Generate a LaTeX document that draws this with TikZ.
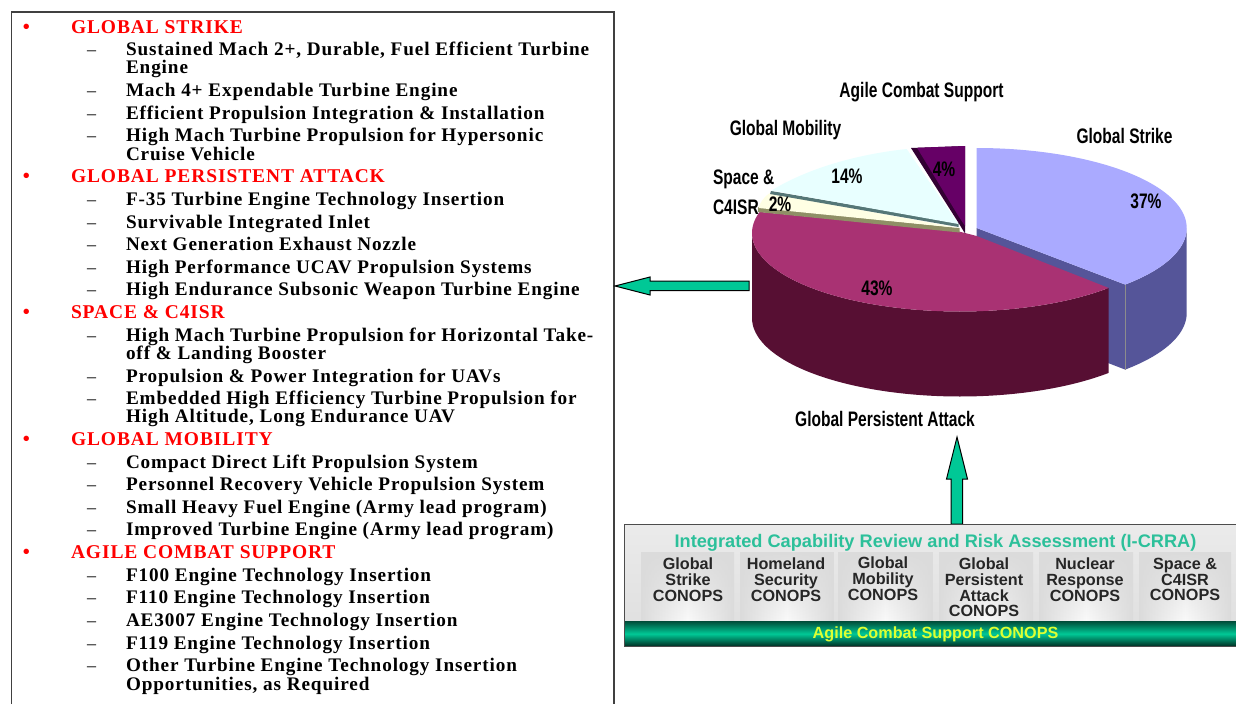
\documentclass[tikz,border=0pt]{standalone}
\usepackage{fontspec}
\usetikzlibrary{fadings}
\setmainfont{Liberation Serif}
\newfontfamily\listfont[LetterSpace=4.6]{Liberation Serif}
\newfontfamily\panelfont{Liberation Sans}
\newfontfamily\pienarrow[FakeStretch=0.74]{Liberation Sans}
\definecolor{redhead}{HTML}{FF0000}
\definecolor{arrowgreen}{HTML}{00C896}
\definecolor{titlegreen}{HTML}{2CC09A}
\definecolor{strikeTop}{HTML}{AAAAFF}
\definecolor{strikeSide}{HTML}{555599}
\definecolor{attackTop}{HTML}{A93273}
\definecolor{attackSide}{HTML}{570F33}
\definecolor{mobTop}{HTML}{E8FFFF}
\definecolor{mobEdge}{HTML}{557777}
\definecolor{spaceTop}{HTML}{FFFFE4}
\definecolor{spaceEdge}{HTML}{8F8F66}
\definecolor{agileTop}{HTML}{660066}
\definecolor{agileEdge}{HTML}{330033}
\definecolor{acsyellow}{HTML}{DDFF33}
\tikzset{
  x=1pt,y=-1pt,
  headt/.style={anchor=base west,inner sep=0,outer sep=0,text=redhead,font={\listfont\bfseries\fontsize{19.5}{19.5}\selectfont}},
  subt/.style={anchor=base west,inner sep=0,outer sep=0,text=black,font={\listfont\bfseries\fontsize{19.2}{19.2}\selectfont}},
  dasht/.style={anchor=base west,inner sep=0,outer sep=0,text=black,font={\fontsize{18}{18}\selectfont}},
  bult/.style={anchor=base west,inner sep=0,outer sep=0,text=redhead,font={\bfseries\fontsize{20}{20}\selectfont}},
  pielab/.style={inner sep=0,outer sep=0,font={\pienarrow\bfseries\fontsize{21}{21}\selectfont}},
  blockarrow/.style={fill=arrowgreen,draw=black,line width=1pt,line join=miter},
  tilet/.style={inner sep=0,outer sep=0,align=center,text=black!85,font={\panelfont\bfseries\fontsize{16.2}{16.2}\selectfont}},
  tileb/.style={left color=black!14,right color=black!14,middle color=black!2},
  tiletop/.style={fill=black!14,path fading=south},
}
\newcommand{\hd}[2]{\node[bult] (b#1) at (23,#1) {•};\node[headt] (h#1) at (71,#1) {#2};}
\newcommand{\sbl}[2]{\node[dasht] (d#1) at (87,#1) {–};\node[subt] (s#1) at (126,#1) {#2};}
\newcommand{\cnt}[2]{\node[subt] (c#1) at (126,#1) {#2};}
\newcommand{\tile}[2]{\shade[tileb] (#1,552) rectangle (#2,621);\path[tiletop] (#1,552) rectangle (#2,621);}
\begin{document}
\begin{tikzpicture}
\useasboundingbox (0,0) rectangle (1236,704);
\fill[white] (0,0) rectangle (1236,704);
% list frame
\draw[draw=black!75,line width=1.2pt] (11.5,704) -- (11.5,12) -- (614,12) -- (614,704);
\hd{33}{GLOBAL STRIKE}
\sbl{55}{Sustained Mach 2+, Durable, Fuel Efficient Turbine}
\cnt{73}{Engine}
\sbl{96}{Mach 4+ Expendable Turbine Engine}
\sbl{119}{Efficient Propulsion Integration \& Installation}
\sbl{141}{High Mach Turbine Propulsion for Hypersonic}
\cnt{160}{Cruise Vehicle}
\hd{182}{GLOBAL PERSISTENT ATTACK}
\sbl{205}{F-35 Turbine Engine Technology Insertion}
\sbl{228}{Survivable Integrated Inlet}
\sbl{250}{Next Generation Exhaust Nozzle}
\sbl{273}{High Performance UCAV Propulsion Systems}
\sbl{295}{High Endurance Subsonic Weapon Turbine Engine}
\hd{318}{SPACE \& C4ISR}
\sbl{341}{High Mach Turbine Propulsion for Horizontal Take-}
\cnt{359}{off \& Landing Booster}
\sbl{382}{Propulsion \& Power Integration for UAVs}
\sbl{404}{Embedded High Efficiency Turbine Propulsion for}
\cnt{422}{High Altitude, Long Endurance UAV}
\hd{445}{GLOBAL MOBILITY}
\sbl{468}{Compact Direct Lift Propulsion System}
\sbl{490}{Personnel Recovery Vehicle Propulsion System}
\sbl{513}{Small Heavy Fuel Engine (Army lead program)}
\sbl{535}{Improved Turbine Engine (Army lead program)}
\hd{558}{AGILE COMBAT SUPPORT}
\sbl{581}{F100 Engine Technology Insertion}
\sbl{603}{F110 Engine Technology Insertion}
\sbl{626}{AE3007 Engine Technology Insertion}
\sbl{649}{F119 Engine Technology Insertion}
\sbl{671}{Other Turbine Engine Technology Insertion}
\cnt{690}{Opportunities, as Required}
% pie: strike
\fill[strikeSide] (976.7,228) -- (976.7,237) -- (1108,290) -- (1108,363) -- (1125.2,369.6) -- (1125.2,284.6) -- cycle;
\fill[strikeSide] (1125.2,284.6) -- plot[domain=45:0,samples=50] ({976.7+210*cos(\x)},{228+80*sin(\x)}) -- plot[domain=0:45,samples=50] ({976.7+210*cos(\x)},{313+80*sin(\x)}) -- cycle;
\draw[black!45,line width=.5pt] (1125.2,284.6) -- (1125.2,369.6);
\fill[strikeTop] (976.7,228) -- plot[domain=-90:45,samples=90] ({976.7+210*cos(\x)},{228+80*sin(\x)}) -- cycle;
% pie: attack
\fill[attackSide] plot[domain=180:44.4,samples=90] ({960+208*cos(\x)},{233+78.5*sin(\x)}) -- plot[domain=44.4:180,samples=90] ({960+208*cos(\x)},{318+78.5*sin(\x)}) -- cycle;
\fill[attackTop] (959,231.5) -- (976.7,236) -- plot[domain=44.4:195.6,samples=90] ({960+208*cos(\x)},{233+78.5*sin(\x)}) -- cycle;
% pie: space
\fill[spaceEdge] (758,207) -- (959.5,228) -- (959.5,232.5) -- (758,212) -- cycle;
\fill[spaceTop] (769.3,193.3) .. controls (763,198) and (760,203) .. (758.5,208) -- (959.3,228) -- cycle;
% pie: mobility
\fill[mobEdge] (771,191) -- (958.5,223) -- (958.5,227) -- (770,194) -- cycle;
\fill[mobTop] (958.3,224) -- (771.5,190.5) .. controls (810,167) and (860,154) .. (906.7,149) -- cycle;
% pie: agile
\fill[agileEdge] (911,148) -- (965,146) -- (965,233.5) -- (958,222) -- cycle;
\fill[agileTop] (917,147.8) -- (965,146) -- (965,226) -- (959,217) -- cycle;
% pie labels
\node[pielab] (lagile) at (921.5,92) {Agile Combat Support};
\node[pielab] (lstrike) at (1124.5,136) {Global Strike};
\node[pielab] (lmob) at (785.5,130) {Global Mobility};
\node[pielab,anchor=west] (lspace) at (713,179) {Space \&};
\node[pielab,anchor=west] (lcisr) at (713,207) {C4ISR};
\node[pielab] (lattack) at (885,419) {Global Persistent Attack};
\node[pielab] (p37) at (1146,201) {37\%};
\node[pielab] (p14) at (847,176) {14\%};
\node[pielab] (p4) at (944,169) {4\%};
\node[pielab] (p2) at (780,204) {2\%};
\node[pielab] (p43) at (877,288) {43\%};
% arrows
\path[blockarrow] (615,286) -- (650,277) -- (650,281) -- (749,281) -- (749,290.5) -- (650,290.5) -- (650,295) -- cycle;
\path[blockarrow] (957,437) -- (967.5,479) -- (962.5,479) -- (962.5,524) -- (951,524) -- (951,479) -- (946.5,479) -- cycle;
% panel
\fill[black!11] (624,524) rectangle (1236,646);
\shade[top color=black!8,bottom color=black!12] (624,524) rectangle (1236,622);
\tile{641}{734}
\tile{740}{833.5}
\tile{838}{932.5}
\tile{939}{1033}
\tile{1039}{1133}
\tile{1139}{1231}
\shade[top color=black!60!arrowgreen,bottom color=black!75!arrowgreen,middle color=arrowgreen] (624,621.5) rectangle (1236,646);
\draw[black!70,line width=1pt] (1236,524) -- (624,524) -- (624,646) -- (1236,646);
\node[inner sep=0,text=titlegreen,font={\panelfont\bfseries\fontsize{18.2}{18.2}\selectfont}] (ttl) at (935.5,542.5) {Integrated Capability Review and Risk Assessment (I-CRRA)};
\node[tilet] (t1) at (688,579.5) {Global\\[-0.4pt]Strike\\[-0.4pt]CONOPS};
\node[tilet] (t2) at (786,579.5) {Homeland\\[-0.4pt]Security\\[-0.4pt]CONOPS};
\node[tilet] (t3) at (883,578.5) {Global\\[-0.4pt]Mobility\\[-0.4pt]CONOPS};
\node[tilet] (t4) at (984,587.5) {Global\\[-0.4pt]Persistent\\[-0.4pt]Attack\\[-0.4pt]CONOPS};
\node[tilet] (t5) at (1085,579.5) {Nuclear\\[-0.4pt]Response\\[-0.4pt]CONOPS};
\node[tilet] (t6) at (1185,579.5) {Space \&\\[-0.4pt]C4ISR\\[-0.4pt]CONOPS};
\node[inner sep=0,text=acsyellow,font={\panelfont\bfseries\fontsize{16.2}{16.2}\selectfont}] (acs) at (935.5,634) {Agile Combat Support CONOPS};
\end{tikzpicture}
\end{document}
